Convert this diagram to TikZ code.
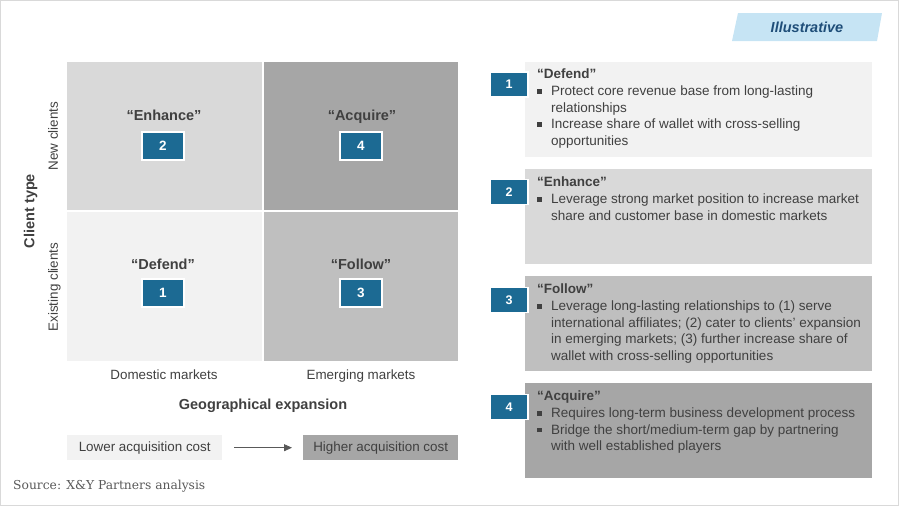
\documentclass[tikz,border=0pt]{standalone}
\usepackage{fontspec}
\setmainfont{Liberation Sans}
\newfontfamily\srcfont{DejaVu Serif}
\usetikzlibrary{arrows.meta}
\definecolor{txt}{HTML}{404040}
\definecolor{gA}{HTML}{F2F2F2}
\definecolor{gB}{HTML}{D9D9D9}
\definecolor{gC}{HTML}{BFBFBF}
\definecolor{gD}{HTML}{A6A6A6}
\definecolor{numblue}{HTML}{1C6A93}
\definecolor{tabblue}{HTML}{C6E4F4}
\definecolor{tabtxt}{HTML}{1F4E79}
\definecolor{framegray}{HTML}{D9D9D9}
\definecolor{arrgray}{HTML}{595959}
\newcommand\pbul{\rule[2pt]{4.6pt}{4.6pt}\hspace{9.4pt}}
\newcommand\pind{\hspace*{14pt}}
\begin{document}
\begin{tikzpicture}[x=1pt,y=-1pt,
  cell/.style={anchor=north west, inner sep=0, minimum height=148pt},
  celllabel/.style={text=txt, font=\fontsize{14.5}{17}\selectfont\bfseries, text depth=0pt, inner sep=0},
  numbox/.style={fill=numblue, draw=white, line width=1.2pt, text=white, inner sep=0,
    font=\fontsize{13.5}{16}\selectfont\bfseries, minimum width=42pt, minimum height=28pt},
  pnum/.style={fill=numblue, draw=white, line width=1.5pt, text=white, inner sep=0,
    font=\fontsize{12.5}{15}\selectfont\bfseries, minimum width=38pt, minimum height=25pt},
  axlabel/.style={text=txt, font=\fontsize{13.4}{16}\selectfont, text depth=0pt, inner sep=0},
  axtitle/.style={text=txt, font=\fontsize{14.5}{17}\selectfont\bfseries, text depth=0pt, inner sep=0},
  panel/.style={anchor=north west, inner sep=0, minimum width=347pt, minimum height=95pt},
  ptext/.style={anchor=north west, inner sep=0, align=left, text=txt,
    font=\fontsize{13.5}{16.6}\selectfont},
  costbox/.style={anchor=north west, inner sep=0, minimum width=155pt, minimum height=25pt,
    text=txt, font=\fontsize{13.4}{16}\selectfont},
  costarrow/.style={draw=arrgray, line width=0.9pt, -{Triangle[length=8pt,width=7pt]}}
]
\useasboundingbox (0,0) rectangle (900,506);
\draw[framegray, line width=1pt] (0.5,0.5) rectangle (898.5,505);

% quadrants
\node[cell, fill=gB, minimum width=195pt] (tl) at (67,62) {};
\node[cell, fill=gD, minimum width=194pt] (tr) at (264,62) {};
\node[cell, fill=gA, minimum width=195pt, minimum height=149pt] (bl) at (67,212) {};
\node[cell, fill=gC, minimum width=194pt, minimum height=149pt] (br) at (264,212) {};

\node[celllabel] (lenh) at (164,115) {“Enhance”};
\node[celllabel] (lacq) at (362,115) {“Acquire”};
\node[celllabel] (ldef) at (163,264) {“Defend”};
\node[celllabel] (lfol) at (361,264) {“Follow”};
\node[numbox] (n2) at (163,146) {2};
\node[numbox] (n4) at (361,146) {4};
\node[numbox] (n1) at (163,293) {1};
\node[numbox] (n3) at (361,293) {3};

% axes
\node[axtitle, rotate=90] (cty) at (29,211) {Client type};
\node[axlabel, rotate=90] (newc) at (53,136) {New clients};
\node[axlabel, rotate=90] (exc) at (53,287) {Existing clients};
\node[axlabel] (dom) at (164,375) {Domestic markets};
\node[axlabel] (emg) at (361,375) {Emerging markets};
\node[axtitle] (geo) at (263,404) {Geographical expansion};

% cost
\node[costbox, fill=gA] (low) at (67,435) {Lower acquisition cost};
\node[costbox, fill=gD] (high) at (303,435) {Higher acquisition cost};
\draw[costarrow, shorten <=12pt, shorten >=11pt] (low) -- (high);

\node[anchor=west, inner sep=0, text=arrgray, font=\srcfont\fontsize{12.3}{14}\selectfont] (src) at (13,486) {Source: X\&Y Partners analysis};

% illustrative tab
\fill[tabblue] (738,13) -- (882,13) -- (877,41) -- (732,41) -- cycle;
\node[text=tabtxt, font=\fontsize{14.5}{17}\selectfont\bfseries\itshape] (illu) at (807,27) {Illustrative};

% panels
\node[panel, fill=gA] (p1) at (525,62) {};
\node[panel, fill=gB] (p2) at (525,169) {};
\node[panel, fill=gC] (p3) at (525,276) {};
\node[panel, fill=gD] (p4) at (525,383) {};

\node[pnum] (pn1) at (509,84.5) {1};
\node[pnum] (pn2) at (509,192) {2};
\node[pnum] (pn3) at (509,300) {3};
\node[pnum] (pn4) at (509,407) {4};

\node[ptext] (t1) at (537,69) {\rule{0pt}{9.7pt}\textbf{“Defend”}\\
\pbul Protect core revenue base from long-lasting\\
\pind relationships\\
\pbul Increase share of wallet with cross-selling\\
\pind opportunities};
\node[ptext] (t2) at (537,177) {\rule{0pt}{9.7pt}\textbf{“Enhance”}\\
\pbul Leverage strong market position to increase market\\
\pind share and customer base in domestic markets};
\node[ptext] (t3) at (537,284) {\rule{0pt}{9.7pt}\textbf{“Follow”}\\
\pbul Leverage long-lasting relationships to (1) serve\\
\pind international affiliates; (2) cater to clients’ expansion\\
\pind in emerging markets; (3) further increase share of\\
\pind wallet with cross-selling opportunities};
\node[ptext] (t4) at (537,391) {\rule{0pt}{9.7pt}\textbf{“Acquire”}\\
\pbul Requires long-term business development process\\
\pbul Bridge the short/medium-term gap by partnering\\
\pind with well established players};
\end{tikzpicture}
\end{document}
